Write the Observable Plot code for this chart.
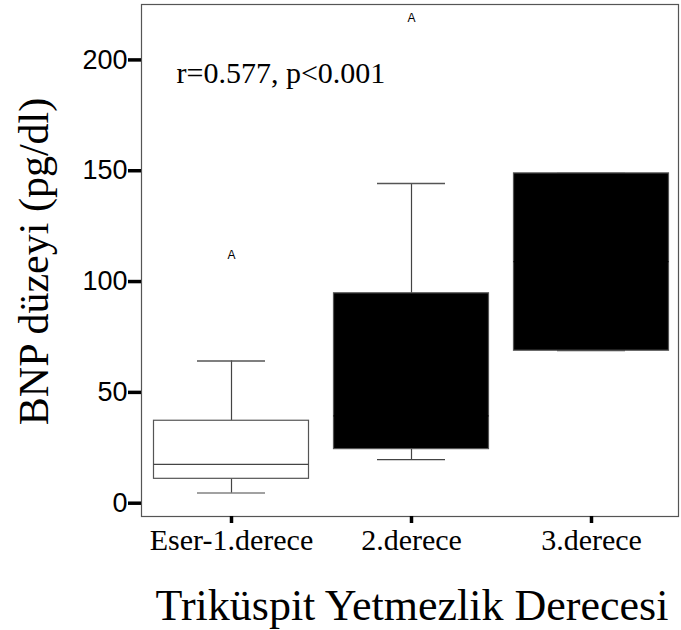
<!DOCTYPE html>
<html>
<head>
<meta charset="utf-8">
<script src="https://cdn.jsdelivr.net/npm/d3@7"></script>
<script src="https://cdn.jsdelivr.net/npm/@observablehq/plot@0.6"></script>
<style>
  html, body { margin: 0; padding: 0; background: white; }
</style>
</head>
<body>
<div id="chart"></div>
<script>
// ---- Data ----
const categories = ["Eser-1.derece", "2.derece", "3.derece"];
const lowerWhisker = [4.6, 19.7, 68.8];
const q1 = [11, 24.4, 68.8];
const median = [17.5, 39.4, 109];
const q3 = [37.2, 94.7, 148.8];
const upperWhisker = [64.2, 144.2, 148.8];

const outlierCategories = ["Eser-1.derece", "2.derece"];
const outlierValues = [112, 219];
const outlierLabels = ["A", "A"];

const yTicks = [0, 50, 100, 150, 200];

const xTitle = "Triküspit Yetmezlik Derecesi";
const yTitle = "BNP düzeyi (pg/dl)";
const annotation = "r=0.577, p<0.001";

// ---- Tables built from arrays ----
const boxes = categories.map((c, i) => ({
  cat: c, lo: lowerWhisker[i], q1: q1[i], med: median[i], q3: q3[i], hi: upperWhisker[i]
}));
const outliers = outlierCategories.map((c, i) => ({cat: c, v: outlierValues[i], label: outlierLabels[i]}));

// ---- Styles ----
const boxFill = {"Eser-1.derece": "white", "2.derece": "black", "3.derece": "black"};
const medianStroke = {"Eser-1.derece": "#444", "2.derece": "black", "3.derece": "black"};
const serif = "'Liberation Serif', 'Times New Roman', serif";
const sans = "'Liberation Sans', Arial, sans-serif";
const W = 681, H = 630, ML = 141, MR = 3, MT = 4, MB = 114;
const frameW = W - ML - MR, frameH = H - MT - MB;

const chart = Plot.plot({
  width: W,
  height: H,
  marginLeft: ML,
  marginRight: MR,
  marginTop: MT,
  marginBottom: MB,
  style: {background: "white", color: "black"},
  x: {domain: categories, range: [ML, W], padding: 0, axis: null},
  y: {domain: [-6, 225], axis: null},
  marks: [
    // whiskers
    Plot.ruleX(boxes, {x: "cat", y1: "q3", y2: "hi", stroke: "#444", strokeWidth: 1.2}),
    Plot.ruleX(boxes, {x: "cat", y1: "lo", y2: "q1", stroke: "#444", strokeWidth: 1.2}),
    Plot.tickY(boxes, {x: "cat", y: "hi", stroke: "#555", strokeWidth: 1.5, insetLeft: 56, insetRight: 56}),
    Plot.tickY(boxes, {x: "cat", y: "lo", stroke: "#444", strokeWidth: 1.2, insetLeft: 56, insetRight: 56}),
    // boxes
    Plot.barY(boxes, {x: "cat", y1: "q1", y2: "q3", fill: d => boxFill[d.cat], stroke: "#555", strokeWidth: 1.2, insetLeft: 12.5, insetRight: 12.5}),
    // medians
    Plot.tickY(boxes, {x: "cat", y: "med", stroke: d => medianStroke[d.cat], strokeWidth: 1.2, insetLeft: 12.5, insetRight: 12.5}),
    // outliers
    Plot.text(outliers, {x: "cat", y: "v", text: "label", fontSize: 12, fontFamily: sans, fill: "black"}),
    // frame
    Plot.frame({stroke: "#555", strokeWidth: 1.2}),
    // heavy y-axis ticks (outside the frame, to the left)
    Plot.tickY(yTicks, {y: d => d, stroke: "black", strokeWidth: 3.5, insetLeft: -13, insetRight: frameW}),
    // heavy x-axis ticks (below the frame)
    Plot.tickX(categories, {x: d => d, stroke: "black", strokeWidth: 3.5, insetTop: frameH, insetBottom: -7}),
    // axis labels
    Plot.axisY({ticks: yTicks, tickSize: 0, tickPadding: 14, fontSize: 27, fontFamily: sans, fill: "black", label: null}),
    Plot.axisX({tickSize: 0, tickPadding: 12, fontSize: 30, fontFamily: serif, fill: "black", label: null}),
    // annotation
    Plot.text([annotation], {frameAnchor: "top-left", dx: 35, dy: 69, textAnchor: "start", lineAnchor: "middle", fontSize: 30, fontFamily: serif, fill: "black"}),
    // y title
    Plot.text([yTitle], {frameAnchor: "left", rotate: -90, dx: -107, dy: 1, textAnchor: "middle", lineAnchor: "middle", fontSize: 42, fontFamily: serif, fill: "black"}),
    // x title
    Plot.text([xTitle], {frameAnchor: "bottom", dy: 89, dx: 2, textAnchor: "middle", lineAnchor: "middle", fontSize: 44, fontFamily: serif, fill: "black"})
  ]
});
document.getElementById("chart").appendChild(chart);
</script>
</body>
</html>
